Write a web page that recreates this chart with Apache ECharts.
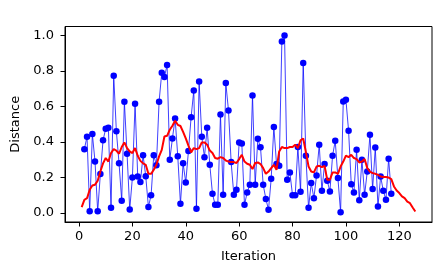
<!DOCTYPE html>
<html>
<head>
<meta charset="utf-8">
<script src="https://cdn.jsdelivr.net/npm/echarts@6/dist/echarts.min.js"></script>
<style>html,body{margin:0;padding:0;background:#fff}#c{width:436px;height:270px}</style>
</head>
<body>
<div id="c"></div>
<script>
// Blue series: distance per iteration (iterations 2..117)
const blueIterations = [2,3,4,5,6,7,8,9,10,11,12,13,14,15,16,17,18,19,20,21,22,23,24,25,26,27,28,29,30,31,32,33,34,35,36,37,38,39,40,41,42,43,44,45,46,47,48,49,50,51,52,53,54,55,56,57,58,59,60,61,62,63,64,65,66,67,68,69,70,71,72,73,74,75,76,77,78,79,80,81,82,83,84,85,86,87,88,89,90,91,92,93,94,95,96,97,98,99,100,101,102,103,104,105,106,107,108,109,110,111,112,113,114,115,116,117];
const blueDistance = [0.36,0.43,0.01,0.445,0.29,0.01,0.22,0.41,0.475,0.48,0.03,0.773,0.46,0.28,0.07,0.627,0.334,0.02,0.20,0.615,0.206,0.175,0.325,0.208,0.035,0.10,0.325,0.27,0.627,0.79,0.766,0.833,0.30,0.42,0.533,0.32,0.052,0.28,0.172,0.35,0.54,0.69,0.024,0.74,0.43,0.315,0.48,0.272,0.109,0.047,0.047,0.555,0.103,0.732,0.578,0.287,0.103,0.131,0.398,0.392,0.047,0.116,0.16,0.662,0.16,0.418,0.37,0.16,0.08,0.019,0.193,0.484,0.276,0.266,0.966,1.0,0.188,0.229,0.1,0.1,0.372,0.12,0.845,0.323,0.03,0.169,0.084,0.212,0.385,0.126,0.276,0.182,0.122,0.323,0.407,0.197,0.005,0.628,0.638,0.463,0.163,0.116,0.356,0.073,0.30,0.103,0.234,0.441,0.135,0.369,0.037,0.206,0.126,0.075,0.306,0.109];
// Red series: smoothed distance (iterations 1..126)
const redIterations = [1,2,3,4,5,6,7,8,9,10,11,12,13,14,15,16,17,18,19,20,21,22,23,24,25,26,27,28,29,30,31,32,33,34,35,36,37,38,39,40,41,42,43,44,45,46,47,48,49,50,51,52,53,54,55,56,57,58,59,60,61,62,63,64,65,66,67,68,69,70,71,72,73,74,75,76,77,78,79,80,81,82,83,84,85,86,87,88,89,90,91,92,93,94,95,96,97,98,99,100,101,102,103,104,105,106,107,108,109,110,111,112,113,114,115,116,117,118,119,120,121,122,123,124,125,126];
const redDistance = [0.034,0.075,0.084,0.131,0.155,0.16,0.182,0.234,0.28,0.31,0.29,0.338,0.36,0.352,0.334,0.372,0.398,0.366,0.347,0.338,0.366,0.323,0.294,0.28,0.272,0.221,0.221,0.244,0.272,0.319,0.356,0.431,0.435,0.469,0.492,0.52,0.497,0.49,0.457,0.42,0.38,0.341,0.366,0.36,0.366,0.398,0.398,0.385,0.352,0.338,0.31,0.306,0.315,0.31,0.296,0.29,0.287,0.287,0.282,0.304,0.328,0.29,0.278,0.272,0.248,0.282,0.285,0.276,0.253,0.221,0.234,0.253,0.272,0.244,0.347,0.372,0.366,0.366,0.372,0.372,0.385,0.366,0.41,0.42,0.343,0.262,0.234,0.229,0.262,0.266,0.259,0.266,0.188,0.188,0.229,0.229,0.221,0.262,0.29,0.323,0.315,0.328,0.31,0.304,0.285,0.29,0.304,0.253,0.234,0.225,0.221,0.216,0.206,0.203,0.203,0.2,0.191,0.15,0.127,0.113,0.094,0.084,0.065,0.056,0.032,0.009];
const xTicks = [0,20,40,60,80,100,120];
const yTicks = [0.0,0.2,0.4,0.6,0.8,1.0];

const font = 'DejaVu Sans';
const fs = 13;
const chart = echarts.init(document.getElementById('c'), null, {renderer:'canvas'});
chart.setOption({
  animation: false,
  backgroundColor: '#fff',
  grid: {left: 65, top: 26.5, right: 4, bottom: 48, show: true, borderColor: '#000', borderWidth: 1, backgroundColor: 'transparent'},
  xAxis: {
    type: 'value', min: -5.25, max: 132.25,
    name: 'Iteration', nameLocation: 'middle', nameGap: 28,
    nameTextStyle: {fontFamily: font, fontSize: fs, color: '#000'},
    axisLine: {show: true, onZero: false, lineStyle: {color: '#000', width: 1}},
    axisTick: {show: true, length: 4.5, inside: false, customValues: xTicks, lineStyle: {color: '#000'}},
    axisLabel: {customValues: xTicks, margin: 8, fontFamily: font, fontSize: fs, color: '#000'},
    splitLine: {show: false}
  },
  yAxis: {
    type: 'value', min: -0.05, max: 1.05,
    name: 'Distance', nameLocation: 'middle', nameGap: 42.5, nameRotate: 90,
    nameTextStyle: {fontFamily: font, fontSize: fs, color: '#000'},
    axisLine: {show: true, onZero: false, lineStyle: {color: '#000', width: 1}},
    axisTick: {show: true, length: 4.5, inside: false, customValues: yTicks, lineStyle: {color: '#000'}},
    axisLabel: {customValues: yTicks, margin: 11, fontFamily: font, fontSize: fs, color: '#000',
      formatter: v => v.toFixed(1)},
    splitLine: {show: false}
  },
  series: [
    {
      type: 'line', name: 'distance',
      data: blueIterations.map((x, i) => [x, blueDistance[i]]),
      symbol: 'circle', symbolSize: 6.5, showSymbol: true,
      itemStyle: {color: '#0000ff', borderWidth: 0},
      lineStyle: {color: '#0000ff', width: 1, opacity: 0.75},
      z: 2
    },
    {
      type: 'line', name: 'smoothed',
      data: redIterations.map((x, i) => [x, redDistance[i]]),
      symbol: 'none',
      lineStyle: {color: '#ff0000', width: 2},
      z: 3
    }
  ]
});
</script>
</body>
</html>
